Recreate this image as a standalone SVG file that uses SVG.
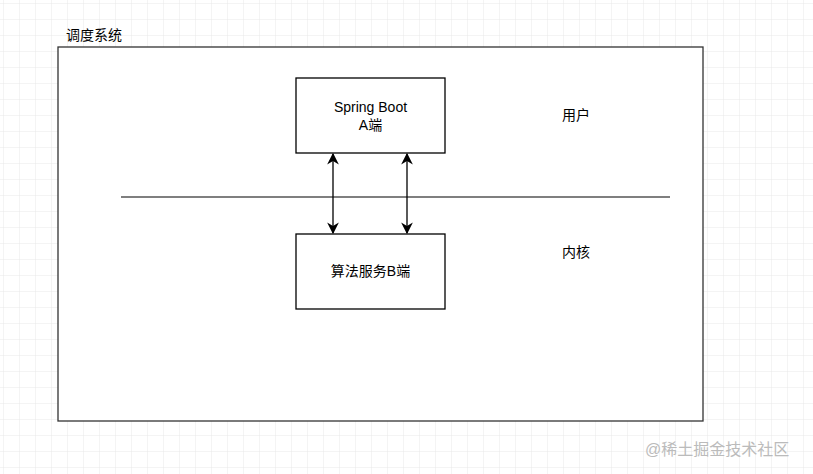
<svg xmlns="http://www.w3.org/2000/svg" width="813" height="474" viewBox="0 0 813 474">
<style>
text{font-family:"Liberation Sans","Noto Sans CJK SC",sans-serif;font-size:14px;fill:#000}
.box{fill:#fff;stroke:#000;stroke-width:1.3}
.c{stroke:#000;stroke-width:1.3;fill:none}
</style>
<defs>
<pattern id="g" width="16" height="16" patternUnits="userSpaceOnUse" x="4" y="4">
<path d="M16 0V16M0 16H16" stroke="#e8e8e8" stroke-width="1" fill="none"/>
</pattern>
<marker id="a" viewBox="0 0 10 10" refX="9" refY="5" markerWidth="9" markerHeight="9" orient="auto-start-reverse">
<path d="M0 0L10 5L0 10L3 5Z" fill="#000"/>
</marker>
</defs>
<rect width="813" height="474" fill="#fff"/>
<rect width="813" height="474" fill="url(#g)"/>
<g id="system">
<rect x="58" y="47" width="645" height="374" fill="#fff" stroke="#333" stroke-width="1.3"/>
<text x="66" y="40">调度系统</text>
</g>
<g id="nodeA">
<rect class="box" x="296" y="78" width="149" height="75"/>
<text x="370.5" y="112" text-anchor="middle">Spring Boot</text>
<text x="370.5" y="130" text-anchor="middle">A端</text>
</g>
<g id="nodeB">
<rect class="box" x="296" y="234" width="149" height="75"/>
<text x="370.5" y="276" text-anchor="middle">算法服务B端</text>
</g>
<g id="labels">
<text x="562" y="120">用户</text>
<text x="562" y="257">内核</text>
</g>
<g id="connectors">
<line x1="121" y1="197" x2="670" y2="197" stroke="#555" stroke-width="1.5"/>
<line class="c" x1="333" y1="154" x2="333" y2="233" marker-start="url(#a)" marker-end="url(#a)"/>
<line class="c" x1="407" y1="154" x2="407" y2="233" marker-start="url(#a)" marker-end="url(#a)"/>
</g>
<text x="645" y="455" style="font-size:16px;fill:#bbb">@稀土掘金技术社区</text>
</svg>
